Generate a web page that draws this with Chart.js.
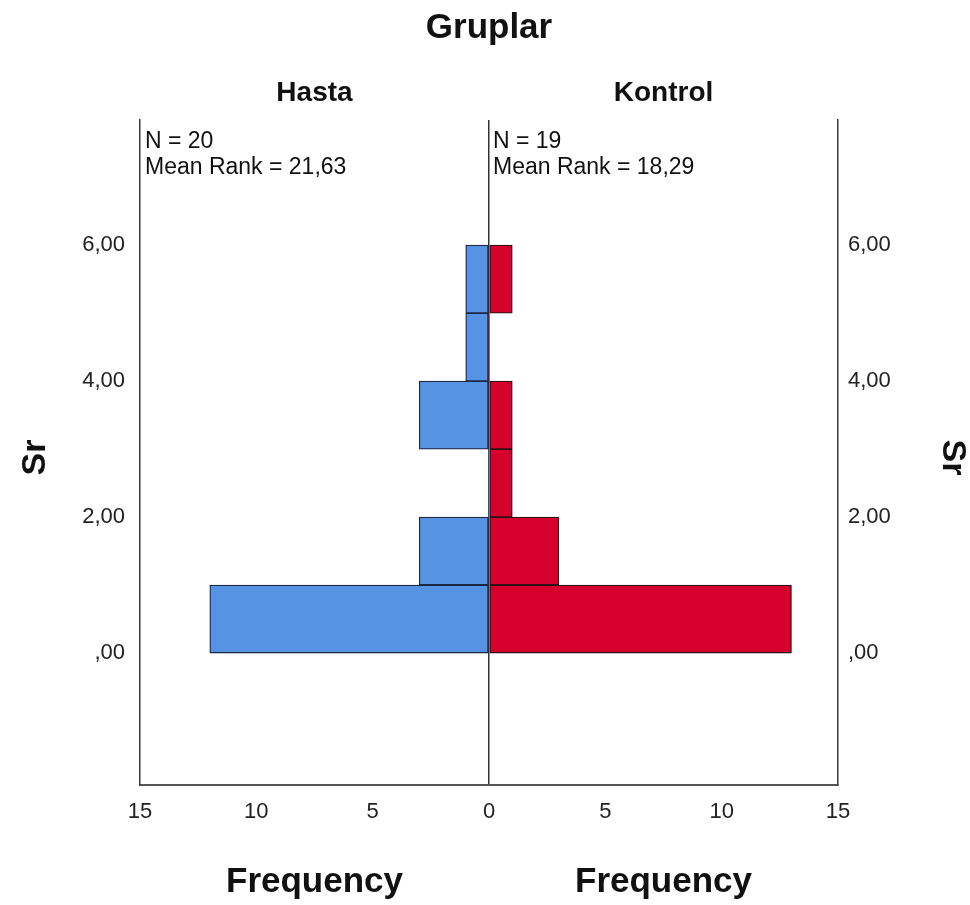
<!DOCTYPE html>
<html>
<head>
<meta charset="utf-8">
<script src="https://cdn.jsdelivr.net/npm/chart.js@4"></script>
<style>
  body { margin: 0; background: #fff; }
</style>
</head>
<body>
<canvas id="grafica" width="970" height="905"></canvas>
<script>
// bin midpoints of Sr (bins of width 1)
const binMids = [0.5, 1.5, 2.5, 3.5, 4.5, 5.5];
const hastaCounts = [12, 3, 0, 3, 1, 1];
const kontrolCounts = [13, 3, 1, 1, 0, 1];

const yTickValues = [0, 2, 4, 6];
const yTickLabels = [',00', '2,00', '4,00', '6,00'];
const xTickValues = [-15, -10, -5, 0, 5, 10, 15];

const groupLabels = ['Hasta', 'Kontrol'];
const groupNotes = [
    ['N = 20', 'Mean Rank = 21,63'],
    ['N = 19', 'Mean Rank = 18,29']
];

const fuente = "'Liberation Sans', Arial, sans-serif";

function setYTicks(scale) {
    scale.ticks = yTickValues.map(v => ({ value: v }));
}

function labelY(value) {
    const i = yTickValues.indexOf(value);
    return i >= 0 ? yTickLabels[i] : '';
}

const textos = {
    id: 'textos',
    afterDraw(chart) {
        const ctx = chart.ctx;
        const x = chart.scales.x;
        const area = chart.chartArea;
        const midY = (area.top + area.bottom) / 2 + 5;
        ctx.save();
        ctx.fillStyle = '#111';
        ctx.textAlign = 'center';
        ctx.textBaseline = 'middle';

        ctx.font = 'bold 35px ' + fuente;
        ctx.fillText('Gruplar', x.getPixelForValue(0), 28);

        ctx.font = 'bold 28px ' + fuente;
        ctx.fillText(groupLabels[0], x.getPixelForValue(-7.5), 93);
        ctx.fillText(groupLabels[1], x.getPixelForValue(7.5), 93);

        ctx.font = 'bold 35px ' + fuente;
        ctx.fillText('Frequency', x.getPixelForValue(-7.5), 882);
        ctx.fillText('Frequency', x.getPixelForValue(7.5), 882);

        // Sr en ambos lados
        ctx.font = 'bold 34px ' + fuente;
        ctx.save();
        ctx.translate(36, midY);
        ctx.rotate(-Math.PI / 2);
        ctx.fillText('Sr', 0, 0);
        ctx.restore();
        ctx.save();
        ctx.translate(952, midY);
        ctx.rotate(Math.PI / 2);
        ctx.fillText('Sr', 0, 0);
        ctx.restore();

        // notas N y Mean Rank
        ctx.font = '23px ' + fuente;
        ctx.textAlign = 'left';
        ctx.textBaseline = 'alphabetic';
        ctx.fillText(groupNotes[0][0], area.left + 5, 148);
        ctx.fillText(groupNotes[0][1], area.left + 5, 174);
        const x0 = x.getPixelForValue(0);
        ctx.fillText(groupNotes[1][0], x0 + 4, 148);
        ctx.fillText(groupNotes[1][1], x0 + 4, 174);
        ctx.restore();
    }
};

const ctx = document.getElementById('grafica');

new Chart(ctx, {
    type: 'bar',
    data: {
        datasets: [{
            label: groupLabels[0],
            data: binMids.map((m, i) => ({ y: m, x: -hastaCounts[i] })),
            backgroundColor: '#5693e3',
            borderColor: '#1c2745',
            borderWidth: c => (c.raw && c.raw.x !== 0 ? 1.3 : 0),
            borderSkipped: false,
            grouped: false,
            barPercentage: 1,
            categoryPercentage: 1
        }, {
            label: groupLabels[1],
            data: binMids.map((m, i) => ({ y: m, x: kontrolCounts[i] })),
            backgroundColor: '#d5002b',
            borderColor: '#2e1216',
            borderWidth: c => (c.raw && c.raw.x !== 0 ? 1.3 : 0),
            borderSkipped: false,
            grouped: false,
            barPercentage: 1,
            categoryPercentage: 1
        }]
    },
    options: {
        indexAxis: 'y',
        responsive: false,
        animation: false,
        layout: { padding: { top: 120, left: 0, right: 0, bottom: 0 } },
        scales: {
            x: {
                type: 'linear',
                min: -15,
                max: 15,
                offset: false,
                afterBuildTicks: scale => { scale.ticks = xTickValues.map(v => ({ value: v })); },
                afterFit: scale => { scale.height = 120; },
                ticks: {
                    padding: 14,
                    color: '#222',
                    font: { family: fuente, size: 22 },
                    callback: v => String(Math.abs(v))
                },
                grid: {
                    drawTicks: false,
                    lineWidth: 1.5,
                    color: c => (c.tick && c.tick.value === 0 ? '#333' : 'rgba(0,0,0,0)')
                },
                border: { display: true, color: '#555', width: 2 }
            },
            y: {
                type: 'linear',
                position: 'left',
                min: -1.94,
                max: 7.84,
                offset: false,
                afterBuildTicks: setYTicks,
                afterFit: scale => { scale.width = 140; },
                ticks: {
                    padding: 15,
                    color: '#222',
                    font: { family: fuente, size: 22 },
                    callback: labelY
                },
                grid: { display: false, drawTicks: false },
                border: { display: true, color: '#3a3a3a', width: 1.5 }
            },
            y2: {
                type: 'linear',
                position: 'right',
                min: -1.94,
                max: 7.84,
                offset: false,
                afterBuildTicks: setYTicks,
                afterFit: scale => { scale.width = 132; },
                ticks: {
                    padding: 10,
                    color: '#222',
                    font: { family: fuente, size: 22 },
                    callback: labelY
                },
                grid: { display: false, drawTicks: false },
                border: { display: true, color: '#3a3a3a', width: 1.5 }
            }
        },
        plugins: {
            legend: { display: false },
            tooltip: { enabled: false }
        }
    },
    plugins: [textos]
});
</script>
</body>
</html>
